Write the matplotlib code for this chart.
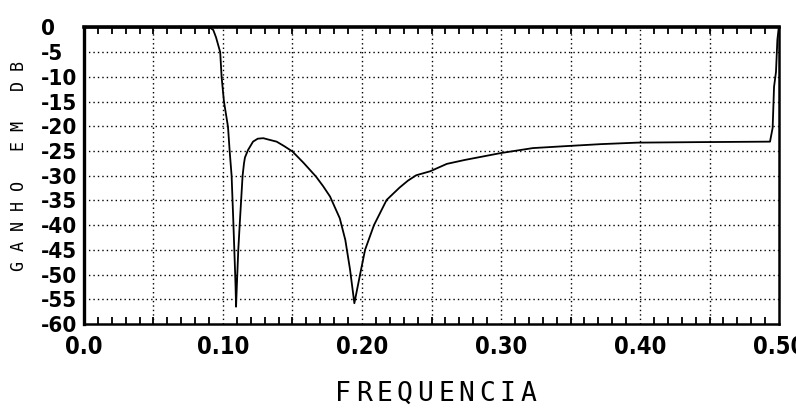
import matplotlib
matplotlib.use("Agg")
import matplotlib.pyplot as plt
from matplotlib.ticker import MultipleLocator

# frequency response
freq = [0.0, 0.0905, 0.093, 0.095, 0.097, 0.098, 0.099, 0.1007,
        0.1036, 0.1048, 0.1062, 0.1074, 0.1084, 0.1090, 0.1094, 0.1100,
        0.1110, 0.1122, 0.1141, 0.1151, 0.1158, 0.118, 0.1216, 0.125,
        0.129, 0.133, 0.1386, 0.144, 0.150, 0.158, 0.167, 0.172, 0.177,
        0.184, 0.188, 0.1914, 0.1945, 0.1986, 0.2022, 0.2086, 0.2177,
        0.227, 0.233, 0.239, 0.249, 0.261, 0.274, 0.287, 0.300, 0.323,
        0.347, 0.372, 0.398, 0.44, 0.4935, 0.4954, 0.4964, 0.4978,
        0.4988, 0.4998, 0.500]
gain = [0.0, 0.0, -0.5, -2.0, -4.0, -5.0, -10.0, -15.0,
        -20.1, -25.0, -30.0, -39.0, -47.0, -52.0, -56.5, -52.0,
        -45.0, -39.0, -30.0, -27.5, -26.3, -24.8, -23.1, -22.5,
        -22.4, -22.7, -23.1, -24.0, -25.1, -27.4, -30.2, -32.1, -34.2,
        -38.6, -43.0, -49.0, -55.8, -50.0, -45.0, -40.0, -34.9,
        -32.4, -31.0, -29.9, -29.1, -27.6, -26.8, -26.1, -25.4, -24.4,
        -24.0, -23.6, -23.3, -23.2, -23.1, -20.3, -12.0, -9.0,
        -2.5, 0.0, 0.0]

xticks = [0.0, 0.1, 0.2, 0.3, 0.4, 0.5]
xtick_labels = ["0.0", "0.10", "0.20", "0.30", "0.40", "0.50"]
yticks = list(range(0, -65, -5))
ytick_labels = [str(v) for v in yticks]

fig = plt.figure(figsize=(7.96, 4.08), dpi=100)
ax = fig.add_axes([0.1055, 0.2059, 0.8732, 0.7267])

ax.plot(freq, gain, color="black", linewidth=1.3)

ax.set_xlim(0, 0.5)
ax.set_ylim(-60, 0)

ax.set_xticks(xticks)
ax.set_xticklabels(xtick_labels, family="DejaVu Sans", stretch="condensed",
                   fontweight="bold", fontsize=17)
ax.xaxis.set_minor_locator(MultipleLocator(0.01))
ax.tick_params(axis="x", which="both", direction="in", top=True,
               bottom=True, length=5, width=1.3, pad=8)
ax.tick_params(axis="x", which="major", length=0)

ax.set_yticks(yticks)
ax.set_yticklabels(ytick_labels, family="DejaVu Sans", stretch="condensed",
                   fontweight="bold", fontsize=16, ha="left")
ax.tick_params(axis="y", length=0, pad=31)

# dotted grid every 0.05 and every 5 dB
for xv in [0.05 * i for i in range(1, 10)]:
    ax.axvline(xv, color="black", linestyle=(0, (1, 2.2)), linewidth=1.0)
for yv in yticks[1:-1]:
    ax.axhline(yv, color="black", linestyle=(0, (1, 2.2)), linewidth=1.0)

ax.spines["top"].set_linewidth(2.6)
ax.spines["left"].set_linewidth(2.4)
ax.spines["bottom"].set_linewidth(1.8)
ax.spines["right"].set_linewidth(1.8)

fig.text(19 / 796, 1 - 166 / 408, "G A N H O   E M   D B", rotation=90,
         ha="center", va="center", family="DejaVu Sans Mono", fontsize=12)

for i, ch in enumerate("FREQUENCIA"):
    fig.text((343 + 20.6 * i) / 796, 1 - 394 / 408, ch, ha="center",
             va="center", family="DejaVu Sans Mono", fontsize=19)

fig.savefig("out.png", dpi=100, facecolor="white")
